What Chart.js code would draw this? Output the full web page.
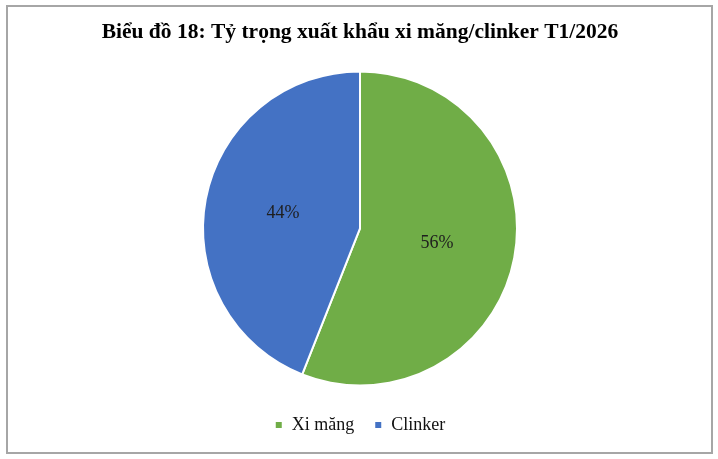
<!DOCTYPE html>
<html lang="vi">
<head>
  <meta charset="UTF-8" />
  <title>Biểu đồ 18</title>
  <script src="https://cdn.jsdelivr.net/npm/chart.js"></script>
  <style>
    html, body {
      margin: 0;
      padding: 0;
      background: #fff;
    }
    #wrap {
      position: relative;
      width: 718px;
      height: 459px;
    }
    #frame {
      position: absolute;
      left: 6px;
      top: 5px;
      width: 703px;
      height: 445px;
      border: 2px solid #a6a6a6;
      pointer-events: none;
    }
  </style>
</head>
<body>
  <div id="wrap">
    <canvas id="pieChart" width="718" height="459"></canvas>
    <div id="frame"></div>
  </div>

  <script>
    const categories = ['Xi măng', 'Clinker'];
    const shares = [56, 44];
    const sliceColors = ['#70ad47', '#4472c4'];
    const titleText = 'Biểu đồ 18: Tỷ trọng xuất khẩu xi măng/clinker T1/2026';

    // percent labels in the middle of each slice
    const sliceLabels = {
      id: 'sliceLabels',
      afterDatasetsDraw(chart) {
        const ctx = chart.ctx;
        const meta = chart.getDatasetMeta(0);
        const total = shares.reduce((a, b) => a + b, 0);
        ctx.save();
        ctx.font = '18px "Liberation Serif", serif';
        ctx.fillStyle = '#1e1e1e';
        ctx.textAlign = 'center';
        ctx.textBaseline = 'middle';
        meta.data.forEach((arc, i) => {
          const p = arc.tooltipPosition();
          ctx.fillText(Math.round(shares[i] / total * 100) + '%', p.x, p.y);
        });
        ctx.restore();
      }
    };

    const ctx = document.getElementById('pieChart').getContext('2d');
    new Chart(ctx, {
      type: 'pie',
      data: {
        labels: categories,
        datasets: [{
          data: shares,
          backgroundColor: sliceColors,
          borderColor: '#fff',
          borderWidth: 2,
          radius: 157
        }]
      },
      options: {
        responsive: false,
        animation: false,
        layout: { padding: { top: 0, bottom: 15, left: 2, right: 0 } },
        plugins: {
          title: {
            display: true,
            text: titleText,
            color: '#000',
            font: { family: '"Liberation Serif", serif', size: 21.5, weight: 'bold', lineHeight: 1.2 },
            padding: { top: 20, bottom: 15 }
          },
          legend: {
            position: 'bottom',
            labels: {
              color: '#111',
              boxWidth: 8,
              boxHeight: 8,
              padding: 20,
              font: { family: '"Liberation Serif", serif', size: 18 }
            }
          },
          tooltip: { enabled: false }
        }
      },
      plugins: [sliceLabels]
    });
  </script>
</body>
</html>
